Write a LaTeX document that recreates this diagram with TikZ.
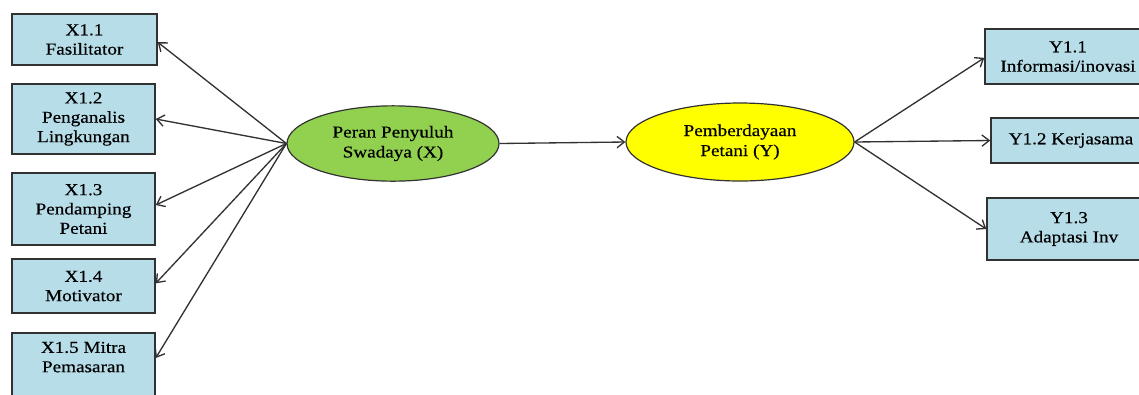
\documentclass[tikz,border=0pt]{standalone}
\usepackage{fontspec}
\setmainfont{Liberation Serif}[FakeStretch=1.15,FakeBold=0.4]
\usetikzlibrary{arrows.meta,shapes.geometric}
\definecolor{boxblue}{RGB}{183,221,232}
\definecolor{ellgreen}{RGB}{146,208,80}
\definecolor{ellyellow}{RGB}{255,255,0}
\definecolor{linegray}{RGB}{50,50,50}
\tikzset{
  box/.style={draw=linegray, line width=1.1pt, fill=boxblue, inner sep=0pt, align=center,
    font=\fontsize{12.5}{14.5}\selectfont},
  latent/.style={ellipse, draw=linegray, line width=0.9pt, inner sep=0pt, align=center,
    font=\fontsize{12.5}{15}\selectfont},
  link/.style={draw=linegray, line width=1pt, -{Straight Barb[length=5.5pt,width=8.5pt]}}
}
\begin{document}
\begin{tikzpicture}[x=0.75pt, y=-0.75pt]
\useasboundingbox (0,0) rectangle (1139,394);
\clip (0,0) rectangle (1139,394);
% left indicator boxes
\node[box, minimum width=108.75pt, minimum height=38.25pt] (x11) at (84.5,39.5) {X1.1\\Fasilitator};
\node[box, minimum width=107.25pt, minimum height=52.5pt] (x12) at (83.5,119) {X1.2\\Penganalis\\Lingkungan};
\node[box, minimum width=107.25pt, minimum height=54pt] (x13) at (83.5,209) {X1.3\\Pendamping\\Petani};
\node[box, minimum width=107.25pt, minimum height=40.5pt] (x14) at (83.5,286) {X1.4\\Motivator};
\node[box, minimum width=107.25pt, minimum height=49.5pt] (x15) at (83.5,366) {X1.5 Mitra\\Pemasaran\\[-1pt]\mbox{}};
% latent variables
\node[latent, fill=ellgreen, minimum width=159pt, minimum height=56.5pt] (X) at (393,143.5) {Peran Penyuluh\\Swadaya (X)};
\node[latent, fill=ellyellow, minimum width=171pt, minimum height=58.5pt] (Y) at (740,142) {Pemberdayaan\\Petani (Y)};
% right indicator boxes
\node[box, minimum width=124.5pt, minimum height=41.25pt] (y11) at (1068,56.5) {Y1.1\\Informasi/inovasi};
\node[box, minimum width=120pt, minimum height=33.75pt] (y12) at (1071,140.5) {Y1.2 Kerjasama};
\node[box, minimum width=123pt, minimum height=46.5pt] (y13) at (1069,229) {Y1.3\\Adaptasi Inv};
% connectors
\draw[link] (X.west) -- ([yshift=-2pt]x11.east);
\draw[link] (X.west) -- (x12.east);
\draw[link] (X.west) -- ([yshift=3pt]x13.east);
\draw[link] (X.west) -- ([yshift=2pt]x14.east);
\draw[link] (X.west) -- ([yshift=6pt]x15.east);
\draw[link] (X.east) -- (Y.west);
\draw[link] (Y.east) -- ([yshift=-1pt]y11.west);
\draw[link] (Y.east) -- (y12.west);
\draw[link] (Y.east) -- (y13.west);
\end{tikzpicture}
\end{document}
